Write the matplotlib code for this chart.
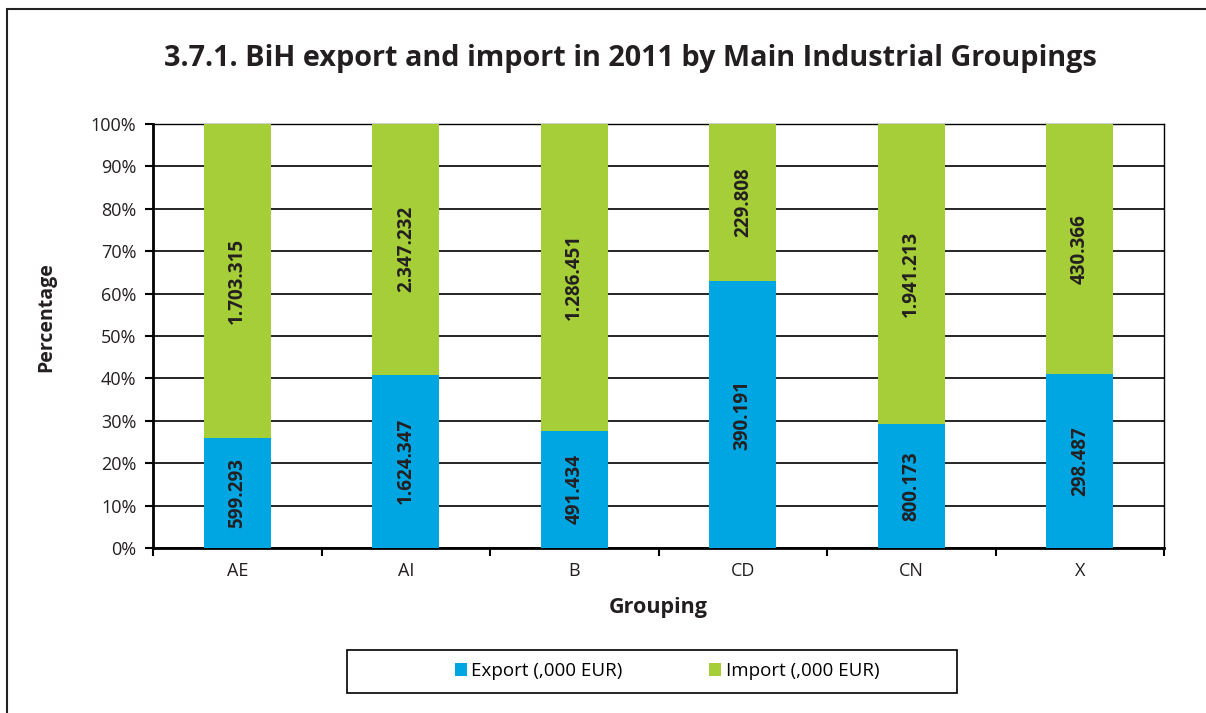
import matplotlib.pyplot as plt
import numpy as np
from matplotlib.patches import Rectangle

plt.rcParams['font.family'] = ['Open Sans', 'DejaVu Sans']

groups = ['AE', 'AI', 'B', 'CD', 'CN', 'X']
export_vals = [599293, 1624347, 491434, 390191, 800173, 298487]
import_vals = [1703315, 2347232, 1286451, 229808, 1941213, 430366]
export_labels = ['599.293', '1.624.347', '491.434', '390.191', '800.173', '298.487']
import_labels = ['1.703.315', '2.347.232', '1.286.451', '229.808', '1.941.213', '430.366']

exp = np.array(export_vals, dtype=float)
imp = np.array(import_vals, dtype=float)
tot = exp + imp
exp_pct = exp / tot * 100
imp_pct = imp / tot * 100

blue = '#00a6e2'
green = '#a6ce39'
ink = '#231f20'

fig = plt.figure(figsize=(12.06, 7.13), dpi=100)
ax = fig.add_axes([0.1269, 0.2314, 0.8383, 0.5947])

# outer frame
fig.patches.append(Rectangle((7 / 1206, -0.01), 1.02, 1 - 9 / 713 + 0.01,
                             transform=fig.transFigure, fill=False,
                             edgecolor='#222222', linewidth=1.5))

x = np.arange(len(groups))
width = 0.4
b1 = ax.bar(x, exp_pct, width, color=blue, label='Export (,000 EUR)', zorder=3)
b2 = ax.bar(x, imp_pct, width, bottom=exp_pct, color=green, label='Import (,000 EUR)', zorder=3)

for i in range(len(groups)):
    ax.text(x[i], exp_pct[i] / 2, export_labels[i], rotation=90, ha='center', va='center',
            fontsize=13.5, fontweight='bold', color=ink, zorder=4)
    ax.text(x[i], exp_pct[i] + imp_pct[i] / 2, import_labels[i], rotation=90, ha='center',
            va='center', fontsize=13.5, fontweight='bold', color=ink, zorder=4)

ax.set_xlim(-0.5, len(groups) - 0.5)
ax.set_ylim(0, 100)
ax.set_yticks(np.arange(0, 101, 10))
ax.set_yticklabels([f'{v}%' for v in range(0, 101, 10)], fontsize=13, color=ink)
ax.yaxis.grid(True, color='black', linewidth=1.2, zorder=0)
ax.set_axisbelow(True)

ax.set_xticks(x)
ax.set_xticklabels(groups, fontsize=13, color=ink)
ax.tick_params(axis='x', length=0, pad=10)
ax.set_xticks(np.arange(-0.5, len(groups), 1), minor=True)
ax.tick_params(axis='x', which='minor', length=6, width=1.5, direction='out')
ax.tick_params(axis='y', length=6, width=1.5, direction='out', pad=6)

ax.spines['left'].set_linewidth(2)
ax.spines['bottom'].set_linewidth(2)
ax.spines['top'].set_linewidth(1)
ax.spines['right'].set_linewidth(1)

ax.set_xlabel('Grouping', fontsize=15.5, fontweight='bold', labelpad=12, color=ink)
ax.set_ylabel('Percentage', fontsize=14, fontweight='bold', color=ink)
ax.yaxis.set_label_coords(-0.096, 0.545)

fig.text(0.523, 0.918, '3.7.1. BiH export and import in 2011 by Main Industrial Groupings',
         ha='center', va='center', fontsize=20.8, fontweight='bold', color=ink)

# legend box
fig.patches.append(Rectangle((347 / 1206, 1 - 693 / 713), 610 / 1206, 43 / 713,
                             transform=fig.transFigure, fill=False,
                             edgecolor='black', linewidth=1.2))
leg = fig.legend(handles=[b1, b2], loc='center', bbox_to_anchor=(667 / 1206, 1 - 671 / 713),
                 ncol=2, frameon=False, fontsize=13.5, handlelength=0.65,
                 handleheight=0.65, handletextpad=0.25, columnspacing=4.6)

fig.savefig('out.png', dpi=100)
